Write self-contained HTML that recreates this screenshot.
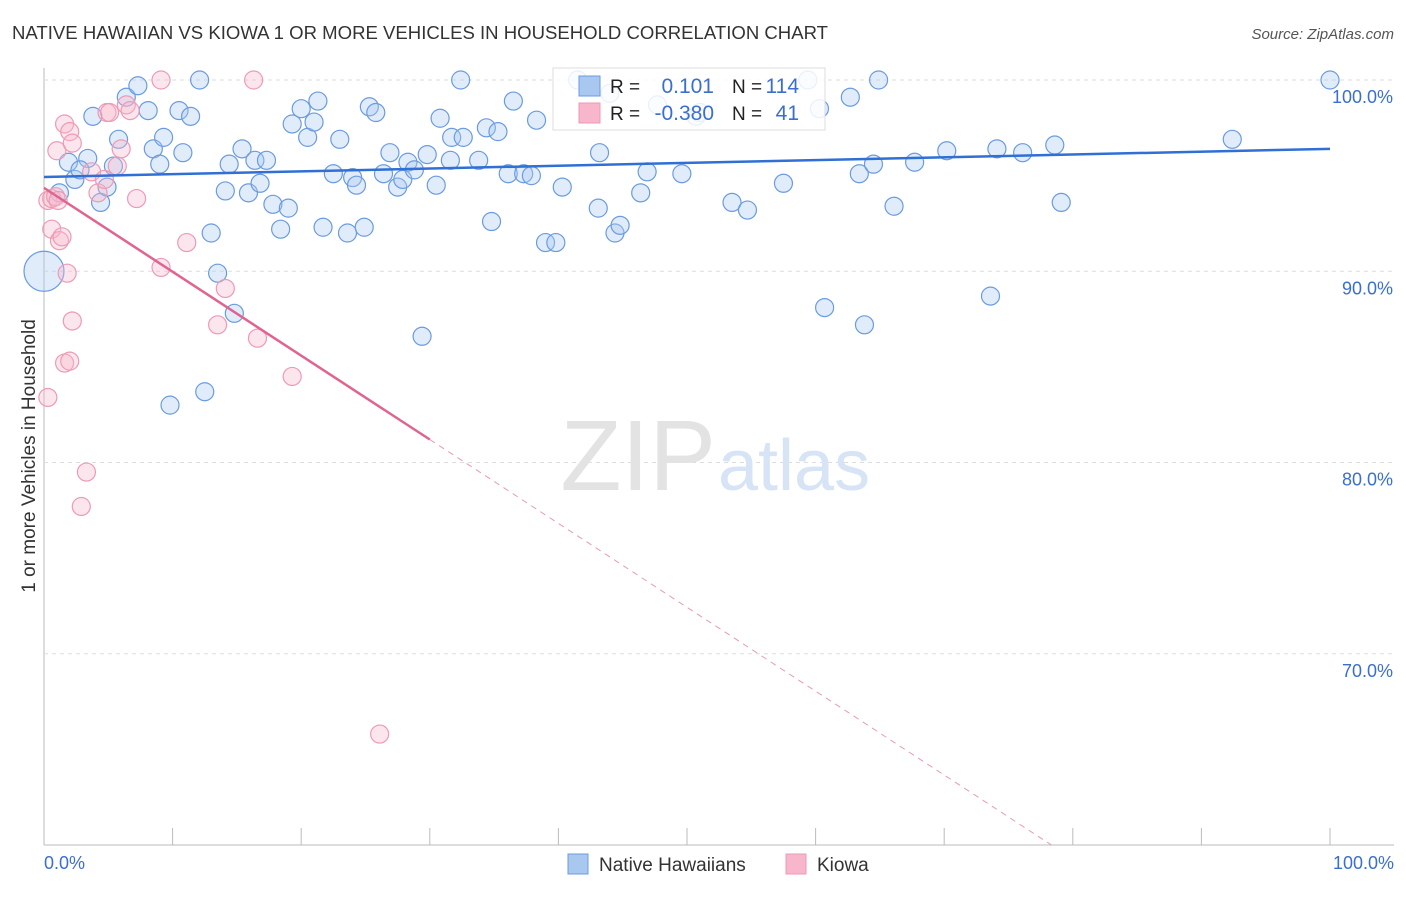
<!DOCTYPE html>
<html><head><meta charset="utf-8">
<style>
body{margin:0;background:#fff;font-family:"Liberation Sans",sans-serif;}
svg text{font-family:"Liberation Sans",sans-serif;}
</style></head>
<body>
<svg width="1406" height="892" id="chart">
<text x="12" y="39" font-size="18" fill="#333" textLength="816" lengthAdjust="spacingAndGlyphs">NATIVE HAWAIIAN VS KIOWA 1 OR MORE VEHICLES IN HOUSEHOLD CORRELATION CHART</text>
<text x="1394" y="39" font-size="15" fill="#555" font-style="italic" text-anchor="end">Source: ZipAtlas.com</text>
<text x="35" y="456" font-size="19" fill="#333" text-anchor="middle" transform="rotate(-90 35 456)">1 or more Vehicles in Household</text>
<g id="grid"></g>
<text x="716" y="490" font-size="100" fill="#e3e3e3" font-family="Liberation Serif" text-anchor="end">ZIP</text>
<text x="718" y="490" font-size="72" fill="#d6e4f5">atlas</text>
<g id="pts"></g>
<g id="trend"></g>
<g>
<rect x="553" y="68" width="272" height="62" fill="#fff" fill-opacity="0.85" stroke="#ddd"/>
<rect x="579" y="76" width="21" height="20" fill="#a9c8f0" stroke="#6a9be0"/>
<rect x="579" y="103" width="21" height="20" fill="#f7b6cb" stroke="#ee9ab5"/>
<text x="610" y="93" font-size="19" fill="#222">R =</text>
<text x="714" y="93" font-size="21" fill="#3a6fd0" text-anchor="end">0.101</text>
<text x="732" y="93" font-size="19" fill="#222">N =</text>
<text x="799" y="93" font-size="21" fill="#3a6fd0" text-anchor="end">114</text>
<text x="610" y="120" font-size="19" fill="#222">R =</text>
<text x="714" y="120" font-size="21" fill="#3a6fd0" text-anchor="end">-0.380</text>
<text x="732" y="120" font-size="19" fill="#222">N =</text>
<text x="799" y="120" font-size="21" fill="#3a6fd0" text-anchor="end">41</text>
</g>
<g>
<rect x="568" y="854" width="20" height="20" fill="#a9c8f0" stroke="#6a9be0"/>
<text x="599" y="871" font-size="19" fill="#333">Native Hawaiians</text>
<rect x="786" y="854" width="20" height="20" fill="#f7b6cb" stroke="#ee9ab5"/>
<text x="817" y="871" font-size="19" fill="#333">Kiowa</text>
</g>
</svg>
<script>
const yTicks=[100,90,80,70];
const xTickLabels=["0.0%","100.0%"];
const blueX=[0,1.2,1.9,2.4,3.4,2.8,3.8,4.4,4.9,5.4,5.8,6.4,7.3,8.1,8.5,9.0,9.3,10.5,10.8,11.4,12.1,13.0,13.5,14.1,14.4,14.8,15.4,15.9,16.4,16.8,17.3,17.8,18.4,19.0,19.3,20.0,20.5,21.0,21.3,21.7,22.5,23.0,23.6,24.0,24.3,24.9,25.3,25.8,26.4,26.9,27.5,27.9,28.3,28.8,29.4,29.8,30.5,30.8,31.6,31.7,32.4,32.6,33.8,34.4,34.8,35.3,36.1,36.5,37.3,37.9,38.3,39.0,39.8,40.3,41.5,43.1,43.2,44.4,44.8,46.4,46.9,47.7,49.6,50.7,53.5,54.7,57.5,59.4,60.3,60.7,62.7,63.4,63.8,64.5,64.9,66.1,67.7,70.2,73.6,74.1,76.1,78.6,79.1,92.4,100,9.8,12.5,44.0,51.0];
const blueY=[90.0,94.1,95.7,94.8,95.9,95.3,98.1,93.6,94.4,95.5,96.9,99.1,99.7,98.4,96.4,95.6,97.0,98.4,96.2,98.1,100,92.0,89.9,94.2,95.6,87.8,96.4,94.1,95.8,94.6,95.8,93.5,92.2,93.3,97.7,98.5,97.0,97.8,98.9,92.3,95.1,96.9,92.0,94.9,94.5,92.3,98.6,98.3,95.1,96.2,94.4,94.8,95.7,95.3,86.6,96.1,94.5,98.0,95.8,97.0,100,97.0,95.8,97.5,92.6,97.3,95.1,98.9,95.1,95.0,97.9,91.5,91.5,94.4,100,93.3,96.2,92.0,92.4,94.1,95.2,98.7,95.1,98.1,93.6,93.2,94.6,100,98.5,88.1,99.1,95.1,87.2,95.6,100,93.4,95.7,96.3,88.7,96.4,96.2,96.6,93.6,96.9,100,83.0,83.7,99.3,98.3];
const pinkX=[0.3,0.3,0.6,0.9,1.1,0.6,1.2,1.4,1.8,1.0,1.6,2.0,2.2,2.2,1.6,2.0,3.3,2.9,3.7,4.2,4.7,4.9,5.1,5.7,6.0,6.4,6.7,7.2,9.1,9.1,11.1,13.5,14.1,16.3,16.6,19.3,26.1];
const pinkY=[83.4,93.7,93.8,93.9,93.7,92.2,91.6,91.8,89.9,96.3,97.7,97.3,96.7,87.4,85.2,85.3,79.5,77.7,95.2,94.1,94.8,98.3,98.3,95.5,96.4,98.7,98.4,93.8,100,90.2,91.5,87.2,89.1,100,86.5,84.5,65.8];
const blueTrend=[94.93,96.4];
const pinkTrend=[94.36,50.5];
const X=v=>44+v*12.86, Y=v=>80+(100-v)*19.125;
const NS="http://www.w3.org/2000/svg";
function mk(tag,attrs,parent){const e=document.createElementNS(NS,tag);for(const k in attrs)e.setAttribute(k,attrs[k]);parent.appendChild(e);return e;}
const grid=document.getElementById('grid');
let ax=mk('line',{x1:44,x2:44,y1:68,y2:845,stroke:'#bbb'},grid);


let bx=mk('line',{x1:44,x2:1394,y1:845,y2:845,stroke:'#bbb'},grid);


yTicks.forEach(t=>{
 const l=mk('line',{x1:44,x2:1394,y1:Y(t),y2:Y(t),stroke:'#ddd','stroke-dasharray':'4,4'},grid);
 
 
 const tx=mk('text',{x:1393,y:Y(t)+23,'font-size':18,fill:'#3a6fd0','text-anchor':'end'},grid);
 tx.textContent=t.toFixed(1)+'%';
 
 
});
for(let i=1;i<=10;i++){
 const l=mk('line',{x1:X(i*10),x2:X(i*10),y1:828,y2:845,stroke:'#bbb'},grid);
 
 
}
const xl0=mk('text',{x:44,y:869,'font-size':18,fill:'#3a6fd0'},grid);xl0.textContent=xTickLabels[0];


const xl1=mk('text',{x:1394,y:869,'font-size':18,fill:'#3a6fd0','text-anchor':'end'},grid);xl1.textContent=xTickLabels[1];


const pts=document.getElementById('pts');
blueX.forEach((x,i)=>{
 const c=mk('circle',{cx:X(x),cy:Y(blueY[i]),r:i===0?20:9,fill:'#a9c8f0','fill-opacity':0.35,stroke:'#6a9be0','stroke-width':1.2},pts);
 
 
});
pinkX.forEach((x,i)=>{
 const c=mk('circle',{cx:X(x),cy:Y(pinkY[i]),r:9,fill:'#f7b6cb','fill-opacity':0.35,stroke:'#ee9ab5','stroke-width':1.2},pts);
 
 
});
const tr=document.getElementById('trend');
const bl=mk('line',{x1:X(0),y1:Y(blueTrend[0]),x2:X(100),y2:Y(blueTrend[1]),stroke:'#2f6fd6','stroke-width':2.5},tr);


const pv=x=>pinkTrend[0]+(pinkTrend[1]-pinkTrend[0])*x/100;
const ps=mk('line',{x1:X(0),y1:Y(pv(0)),x2:X(30),y2:Y(pv(30)),stroke:'#e0648f','stroke-width':2.5},tr);


const xEnd=(60-pinkTrend[0])/(pinkTrend[1]-pinkTrend[0])*100;
const pd=mk('line',{x1:X(30),y1:Y(pv(30)),x2:X(xEnd),y2:Y(60),stroke:'#e89ab4','stroke-width':1,'stroke-dasharray':'6,5'},tr);


</script>
</body></html>
